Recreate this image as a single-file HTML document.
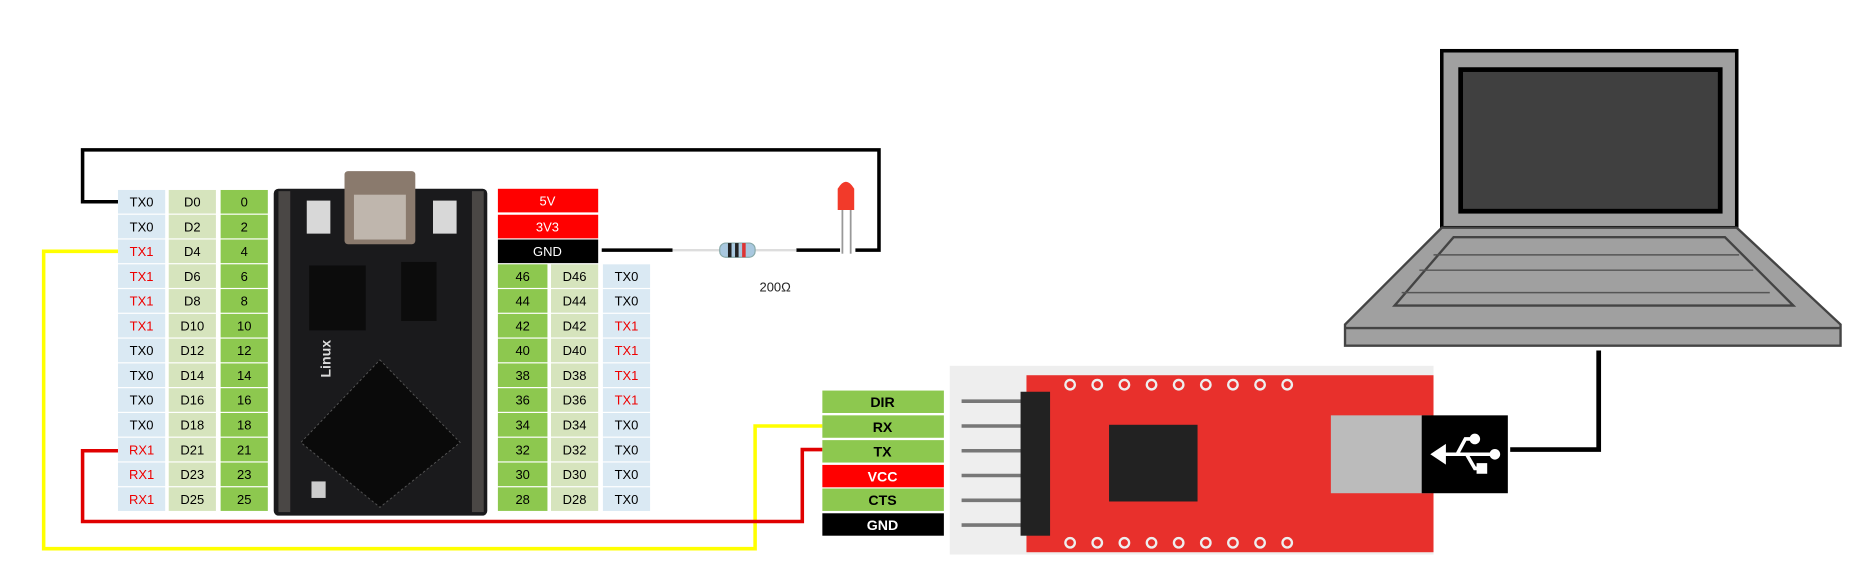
<!DOCTYPE html>
<html><head><meta charset="utf-8"><style>
html,body{margin:0;padding:0;background:#fff;}
svg{display:block;}
text{font-family:"Liberation Sans",sans-serif;}
</style></head><body>
<svg width="1850" height="577" viewBox="0 0 1568 489" preserveAspectRatio="none" xmlns="http://www.w3.org/2000/svg">
<rect width="1568" height="489" fill="#fff"/>
<!-- wires -->
<polyline points="100,171 70,171 70,127 745,127 745,212 725,212" fill="none" stroke="#000" stroke-width="3"/>
<polyline points="100,213 37,213 37,465 640,465 640,361 697,361" fill="none" stroke="#ffff00" stroke-width="3"/>
<polyline points="100,382 70,382 70,442 680,442 680,381 697,381" fill="none" stroke="#e00000" stroke-width="3"/>
<line x1="510" y1="212" x2="570" y2="212" stroke="#000" stroke-width="3"/>
<line x1="675" y1="212" x2="712" y2="212" stroke="#000" stroke-width="3"/>
<!-- resistor -->
<line x1="570" y1="212" x2="675" y2="212" stroke="#ddd" stroke-width="2"/>
<rect x="610" y="206" width="30" height="12" rx="5" fill="#a9c8df" stroke="#8aa" stroke-width="1"/>
<rect x="617" y="206" width="3" height="12" fill="#222"/><rect x="623" y="206" width="3" height="12" fill="#222"/><rect x="629" y="206" width="3" height="12" fill="#d33"/>
<text x="657" y="247" font-size="11" text-anchor="middle" fill="#222">200Ω</text>
<!-- LED -->
<line x1="714" y1="175" x2="714" y2="215" stroke="#999" stroke-width="1.5"/>
<line x1="721" y1="175" x2="721" y2="215" stroke="#999" stroke-width="1.5"/>
<path d="M710,178 L710,160 Q717,148 724,160 L724,178 Z" fill="#f23a2a"/>
<!-- left table -->
<g font-size="11" text-anchor="middle">
<g id="lt"></g>
</g>
<!-- left table rows -->
<g font-size="11" text-anchor="middle">
<rect x="100" y="161" width="40" height="20" fill="#dae9f3"/><rect x="143" y="161" width="40" height="20" fill="#d6e4bd"/><rect x="187" y="161" width="40" height="20" fill="#8dc84f"/><text x="120" y="175">TX0</text><text x="163" y="175">D0</text><text x="207" y="175">0</text>
<rect x="100" y="182" width="40" height="20" fill="#dae9f3"/><rect x="143" y="182" width="40" height="20" fill="#d6e4bd"/><rect x="187" y="182" width="40" height="20" fill="#8dc84f"/><text x="120" y="196">TX0</text><text x="163" y="196">D2</text><text x="207" y="196">2</text>
<rect x="100" y="203" width="40" height="20" fill="#dae9f3"/><rect x="143" y="203" width="40" height="20" fill="#d6e4bd"/><rect x="187" y="203" width="40" height="20" fill="#8dc84f"/><text x="120" y="217" fill="#e00">TX1</text><text x="163" y="217">D4</text><text x="207" y="217">4</text>
<rect x="100" y="224" width="40" height="20" fill="#dae9f3"/><rect x="143" y="224" width="40" height="20" fill="#d6e4bd"/><rect x="187" y="224" width="40" height="20" fill="#8dc84f"/><text x="120" y="238" fill="#e00">TX1</text><text x="163" y="238">D6</text><text x="207" y="238">6</text>
<rect x="100" y="245" width="40" height="20" fill="#dae9f3"/><rect x="143" y="245" width="40" height="20" fill="#d6e4bd"/><rect x="187" y="245" width="40" height="20" fill="#8dc84f"/><text x="120" y="259" fill="#e00">TX1</text><text x="163" y="259">D8</text><text x="207" y="259">8</text>
<rect x="100" y="266" width="40" height="20" fill="#dae9f3"/><rect x="143" y="266" width="40" height="20" fill="#d6e4bd"/><rect x="187" y="266" width="40" height="20" fill="#8dc84f"/><text x="120" y="280" fill="#e00">TX1</text><text x="163" y="280">D10</text><text x="207" y="280">10</text>
<rect x="100" y="287" width="40" height="20" fill="#dae9f3"/><rect x="143" y="287" width="40" height="20" fill="#d6e4bd"/><rect x="187" y="287" width="40" height="20" fill="#8dc84f"/><text x="120" y="301">TX0</text><text x="163" y="301">D12</text><text x="207" y="301">12</text>
<rect x="100" y="308" width="40" height="20" fill="#dae9f3"/><rect x="143" y="308" width="40" height="20" fill="#d6e4bd"/><rect x="187" y="308" width="40" height="20" fill="#8dc84f"/><text x="120" y="322">TX0</text><text x="163" y="322">D14</text><text x="207" y="322">14</text>
<rect x="100" y="329" width="40" height="20" fill="#dae9f3"/><rect x="143" y="329" width="40" height="20" fill="#d6e4bd"/><rect x="187" y="329" width="40" height="20" fill="#8dc84f"/><text x="120" y="343">TX0</text><text x="163" y="343">D16</text><text x="207" y="343">16</text>
<rect x="100" y="350" width="40" height="20" fill="#dae9f3"/><rect x="143" y="350" width="40" height="20" fill="#d6e4bd"/><rect x="187" y="350" width="40" height="20" fill="#8dc84f"/><text x="120" y="364">TX0</text><text x="163" y="364">D18</text><text x="207" y="364">18</text>
<rect x="100" y="371" width="40" height="20" fill="#dae9f3"/><rect x="143" y="371" width="40" height="20" fill="#d6e4bd"/><rect x="187" y="371" width="40" height="20" fill="#8dc84f"/><text x="120" y="385" fill="#e00">RX1</text><text x="163" y="385">D21</text><text x="207" y="385">21</text>
<rect x="100" y="392" width="40" height="20" fill="#dae9f3"/><rect x="143" y="392" width="40" height="20" fill="#d6e4bd"/><rect x="187" y="392" width="40" height="20" fill="#8dc84f"/><text x="120" y="406" fill="#e00">RX1</text><text x="163" y="406">D23</text><text x="207" y="406">23</text>
<rect x="100" y="413" width="40" height="20" fill="#dae9f3"/><rect x="143" y="413" width="40" height="20" fill="#d6e4bd"/><rect x="187" y="413" width="40" height="20" fill="#8dc84f"/><text x="120" y="427" fill="#e00">RX1</text><text x="163" y="427">D25</text><text x="207" y="427">25</text>
</g>
<!-- board -->
<rect x="232" y="160" width="181" height="277" rx="4" fill="#1a1a1c"/>
<rect x="236" y="162" width="10" height="272" fill="#6b6560" opacity="0.6"/>
<rect x="400" y="162" width="10" height="272" fill="#6b6560" opacity="0.6"/>
<rect x="292" y="145" width="60" height="62" rx="3" fill="#8a7a6d"/>
<rect x="300" y="165" width="44" height="38" fill="#bfb6ad"/>
<rect x="260" y="170" width="20" height="28" fill="#d8d8d8"/><rect x="367" y="170" width="20" height="28" fill="#d8d8d8"/>
<rect x="262" y="225" width="48" height="55" fill="#0c0c0c"/><rect x="340" y="222" width="30" height="50" fill="#0c0c0c"/>
<polygon points="322,305 390,375 322,430 255,375" fill="#0a0a0a" stroke="#555" stroke-width="0.8" stroke-dasharray="2,2"/>
<text x="0" y="0" font-size="12" fill="#ddd" transform="translate(280,320) rotate(-90)" font-weight="bold">Linux</text>
<rect x="264" y="408" width="12" height="14" fill="#ccc"/>
<!-- right power -->
<g font-size="11" text-anchor="middle">
<rect x="422" y="160" width="85" height="20" fill="#ff0000"/><text x="464" y="174" fill="#fff">5V</text>
<rect x="422" y="182" width="85" height="20" fill="#ff0000"/><text x="464" y="196" fill="#fff">3V3</text>
<rect x="422" y="203" width="85" height="20" fill="#000"/><text x="464" y="217" fill="#fff">GND</text>
</g>
<g font-size="11" text-anchor="middle">
<rect x="422" y="224" width="42" height="20" fill="#8dc84f"/><rect x="467" y="224" width="40" height="20" fill="#d6e4bd"/><rect x="511" y="224" width="40" height="20" fill="#dae9f3"/><text x="443" y="238">46</text><text x="487" y="238">D46</text><text x="531" y="238">TX0</text>
<rect x="422" y="245" width="42" height="20" fill="#8dc84f"/><rect x="467" y="245" width="40" height="20" fill="#d6e4bd"/><rect x="511" y="245" width="40" height="20" fill="#dae9f3"/><text x="443" y="259">44</text><text x="487" y="259">D44</text><text x="531" y="259">TX0</text>
<rect x="422" y="266" width="42" height="20" fill="#8dc84f"/><rect x="467" y="266" width="40" height="20" fill="#d6e4bd"/><rect x="511" y="266" width="40" height="20" fill="#dae9f3"/><text x="443" y="280">42</text><text x="487" y="280">D42</text><text x="531" y="280" fill="#e00">TX1</text>
<rect x="422" y="287" width="42" height="20" fill="#8dc84f"/><rect x="467" y="287" width="40" height="20" fill="#d6e4bd"/><rect x="511" y="287" width="40" height="20" fill="#dae9f3"/><text x="443" y="301">40</text><text x="487" y="301">D40</text><text x="531" y="301" fill="#e00">TX1</text>
<rect x="422" y="308" width="42" height="20" fill="#8dc84f"/><rect x="467" y="308" width="40" height="20" fill="#d6e4bd"/><rect x="511" y="308" width="40" height="20" fill="#dae9f3"/><text x="443" y="322">38</text><text x="487" y="322">D38</text><text x="531" y="322" fill="#e00">TX1</text>
<rect x="422" y="329" width="42" height="20" fill="#8dc84f"/><rect x="467" y="329" width="40" height="20" fill="#d6e4bd"/><rect x="511" y="329" width="40" height="20" fill="#dae9f3"/><text x="443" y="343">36</text><text x="487" y="343">D36</text><text x="531" y="343" fill="#e00">TX1</text>
<rect x="422" y="350" width="42" height="20" fill="#8dc84f"/><rect x="467" y="350" width="40" height="20" fill="#d6e4bd"/><rect x="511" y="350" width="40" height="20" fill="#dae9f3"/><text x="443" y="364">34</text><text x="487" y="364">D34</text><text x="531" y="364">TX0</text>
<rect x="422" y="371" width="42" height="20" fill="#8dc84f"/><rect x="467" y="371" width="40" height="20" fill="#d6e4bd"/><rect x="511" y="371" width="40" height="20" fill="#dae9f3"/><text x="443" y="385">32</text><text x="487" y="385">D32</text><text x="531" y="385">TX0</text>
<rect x="422" y="392" width="42" height="20" fill="#8dc84f"/><rect x="467" y="392" width="40" height="20" fill="#d6e4bd"/><rect x="511" y="392" width="40" height="20" fill="#dae9f3"/><text x="443" y="406">30</text><text x="487" y="406">D30</text><text x="531" y="406">TX0</text>
<rect x="422" y="413" width="42" height="20" fill="#8dc84f"/><rect x="467" y="413" width="40" height="20" fill="#d6e4bd"/><rect x="511" y="413" width="40" height="20" fill="#dae9f3"/><text x="443" y="427">28</text><text x="487" y="427">D28</text><text x="531" y="427">TX0</text>
</g>
<!-- FTDI labels -->
<g font-size="12" font-weight="bold" text-anchor="middle">
<rect x="697" y="331" width="103" height="19" fill="#8dc84f"/><text x="748" y="345">DIR</text>
<rect x="697" y="352" width="103" height="19" fill="#8dc84f"/><text x="748" y="366">RX</text>
<rect x="697" y="373" width="103" height="19" fill="#8dc84f"/><text x="748" y="387">TX</text>
<rect x="697" y="394" width="103" height="19" fill="#ff0000"/><text x="748" y="408" fill="#fff">VCC</text>
<rect x="697" y="414" width="103" height="19" fill="#8dc84f"/><text x="748" y="428">CTS</text>
<rect x="697" y="435" width="103" height="19" fill="#000"/><text x="748" y="449" fill="#fff">GND</text>
</g>
<!-- FTDI board -->
<rect x="805" y="310" width="410" height="160" fill="#eeeeee"/>
<g stroke="#777" stroke-width="3">
<line x1="815" y1="340" x2="870" y2="340"/><line x1="815" y1="361" x2="870" y2="361"/><line x1="815" y1="382" x2="870" y2="382"/><line x1="815" y1="403" x2="870" y2="403"/><line x1="815" y1="424" x2="870" y2="424"/><line x1="815" y1="445" x2="870" y2="445"/>
</g>
<rect x="870" y="318" width="345" height="150" fill="#e8302c"/>
<rect x="865" y="332" width="25" height="122" fill="#222"/>
<rect x="940" y="360" width="75" height="65" fill="#222"/>
<g fill="none" stroke="#eee" stroke-width="2">
<circle cx="907" cy="326" r="4"/><circle cx="930" cy="326" r="4"/><circle cx="953" cy="326" r="4"/><circle cx="976" cy="326" r="4"/><circle cx="999" cy="326" r="4"/><circle cx="1022" cy="326" r="4"/><circle cx="1045" cy="326" r="4"/><circle cx="1068" cy="326" r="4"/><circle cx="1091" cy="326" r="4"/>
<circle cx="907" cy="460" r="4"/><circle cx="930" cy="460" r="4"/><circle cx="953" cy="460" r="4"/><circle cx="976" cy="460" r="4"/><circle cx="999" cy="460" r="4"/><circle cx="1022" cy="460" r="4"/><circle cx="1045" cy="460" r="4"/><circle cx="1068" cy="460" r="4"/><circle cx="1091" cy="460" r="4"/>
</g>
<rect x="1128" y="352" width="85" height="66" fill="#bbb"/>
<rect x="1205" y="352" width="73" height="66" fill="#000"/>
<g stroke="#fff" stroke-width="3" fill="#fff">
<line x1="1220" y1="385" x2="1265" y2="385"/>
<polygon points="1215,385 1224,379 1224,391"/>
<polyline points="1235,385 1242,372 1250,372" fill="none"/>
<polyline points="1243,385 1250,397 1255,397" fill="none"/>
<circle cx="1250" cy="372" r="3"/><rect x="1253" y="394" width="6" height="6"/><circle cx="1267" cy="385" r="3"/>
</g>
<polyline points="1280,381 1355,381 1355,297" fill="none" stroke="#000" stroke-width="4"/>
<!-- laptop -->
<rect x="1222" y="43" width="250" height="150" fill="#a0a0a0" stroke="#000" stroke-width="3"/>
<rect x="1238" y="59" width="220" height="120" fill="#404040" stroke="#000" stroke-width="4"/>
<polygon points="1222,193 1472,193 1560,275 1560,293 1140,293 1140,275" fill="#a0a0a0" stroke="#444" stroke-width="2"/>
<line x1="1140" y1="278" x2="1560" y2="278" stroke="#444" stroke-width="2"/>
<polygon points="1232,201 1462,201 1520,259 1182,259" fill="#a0a0a0" stroke="#444" stroke-width="2"/>
<line x1="1215" y1="216" x2="1474" y2="216" stroke="#555" stroke-width="1.2"/>
<line x1="1203" y1="229" x2="1486" y2="229" stroke="#555" stroke-width="1.2"/>
<line x1="1188" y1="248" x2="1500" y2="248" stroke="#555" stroke-width="1.2"/>
</svg>
</body></html>
